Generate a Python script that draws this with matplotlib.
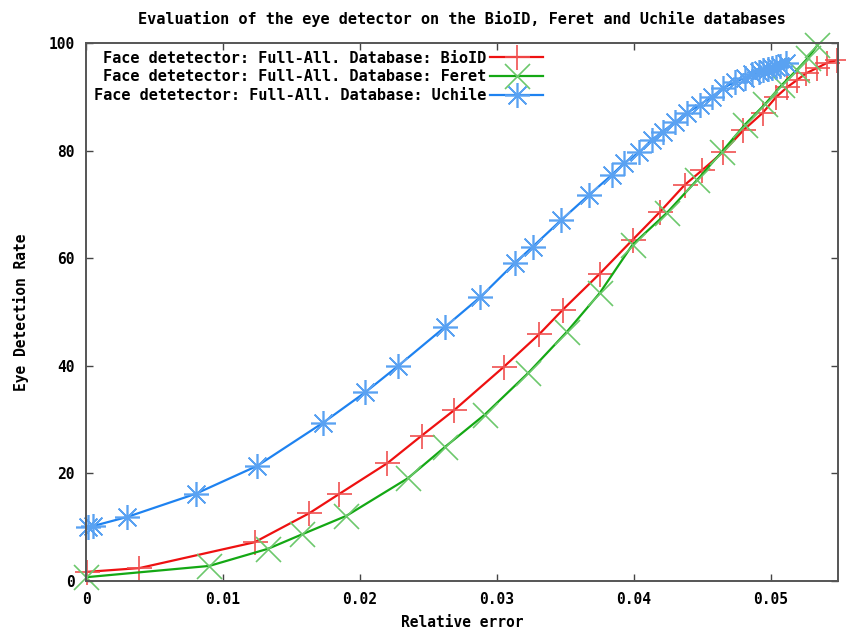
import numpy as np
import matplotlib.pyplot as plt

plt.rcParams['font.family'] = 'DejaVu Sans Mono'
plt.rcParams['font.weight'] = 'bold'
plt.rcParams['axes.titleweight'] = 'bold'
plt.rcParams['axes.labelweight'] = 'bold'

# Relative error / eye detection rate
bioid_x = [0.0001, 0.0039, 0.0123, 0.0163, 0.0185, 0.0220, 0.0245, 0.0269,
           0.0305, 0.0331, 0.0348, 0.0375, 0.0399, 0.0419, 0.0437, 0.0450,
           0.0465, 0.0480, 0.0494, 0.0504, 0.0512, 0.0519, 0.0526, 0.0534,
           0.0541, 0.0548]
bioid_y = [1.7, 2.4, 7.2, 12.6, 16.2, 21.9, 27.0, 31.8,
           39.8, 45.9, 50.4, 57.1, 63.4, 68.6, 73.6, 76.4,
           79.7, 83.8, 87.0, 90.0, 91.8, 93.1, 94.4, 95.4,
           96.3, 96.8]

feret_x = [0.0000, 0.0090, 0.0133, 0.0158, 0.0190, 0.0235, 0.0262, 0.0291,
           0.0323, 0.0351, 0.0375, 0.0399, 0.0424, 0.0446, 0.0464, 0.0481,
           0.0496, 0.0508, 0.0519, 0.0527, 0.0534]
feret_y = [0.7, 2.8, 6.0, 8.7, 12.1, 19.1, 24.9, 30.9,
           38.7, 46.3, 53.5, 62.5, 68.4, 74.5, 79.7, 84.8,
           88.7, 92.2, 95.0, 97.2, 99.6]

uchile_x = [0.00015, 0.0005, 0.0030, 0.0080, 0.0125, 0.0173, 0.0204, 0.0228,
            0.0262, 0.0288, 0.0313, 0.0326, 0.0347, 0.0367, 0.0384, 0.0393,
            0.0404, 0.0413, 0.0421, 0.0430, 0.0439, 0.0448, 0.0457, 0.0465,
            0.0474, 0.0481, 0.0486, 0.0491, 0.0494, 0.0498, 0.0501, 0.0504,
            0.0507, 0.0511]
uchile_y = [10.0, 10.2, 11.9, 16.2, 21.4, 29.4, 35.1, 40.0,
            47.2, 52.8, 59.1, 62.1, 67.1, 71.7, 75.5, 77.7,
            79.7, 82.0, 83.5, 85.3, 87.0, 88.5, 90.0, 91.6,
            92.8, 93.5, 94.2, 94.6, 95.0, 95.2, 95.4, 95.5,
            95.7, 96.3]

x_ticks = [0, 0.01, 0.02, 0.03, 0.04, 0.05]
x_tick_labels = ['0', '0.01', '0.02', '0.03', '0.04', '0.05']
y_ticks = [0, 20, 40, 60, 80, 100]

fig = plt.figure(figsize=(8.46, 6.36), dpi=100)
ax = fig.add_axes([0.1017, 0.0865, 0.8888, 0.8459])

series = [
    (bioid_x, bioid_y, '#ee1111', '#f05050', '+', 'BioID'),
    (feret_x, feret_y, '#14a814', '#6cc86c', 'x', 'Feret'),
    (uchile_x, uchile_y, '#1e82f0', '#5aa2f2', (8, 2, 0), 'Uchile'),
]
for xs, ys, lc, mc, mk, name in series:
    ax.plot(xs, ys, color=lc, linewidth=1.6, marker=mk, markersize=18,
            markeredgecolor=mc, markerfacecolor=mc, markeredgewidth=1.2,
            label=f'Face detetector: Full-All. Database: {name}', clip_on=False)

ax.set_xlim(0, 0.0549)
ax.set_ylim(0, 100)
ax.set_xticks(x_ticks)
ax.set_xticklabels(x_tick_labels)
ax.set_yticks(y_ticks)
ax.tick_params(direction='in', length=5, width=1, top=True, right=True,
               labelsize=10.5, pad=8, color='#444444')
for s in ax.spines.values():
    s.set_color('#555555')
    s.set_linewidth(1.4)

ax.set_title('Evaluation of the eye detector on the BioID, Feret and Uchile databases',
             fontsize=11, pad=14)
ax.set_xlabel('Relative error', fontsize=10.5, labelpad=6)
ax.set_ylabel('Eye Detection Rate', fontsize=10.5, labelpad=14)

ax.legend(loc='upper left', bbox_to_anchor=(0.0, 1.0), frameon=False,
          markerfirst=False, numpoints=1, fontsize=11, handlelength=3.5,
          handletextpad=0.25, labelspacing=0.25, borderaxespad=0.2,
          borderpad=0.3, alignment='right')

fig.savefig('out.png', dpi=100)
